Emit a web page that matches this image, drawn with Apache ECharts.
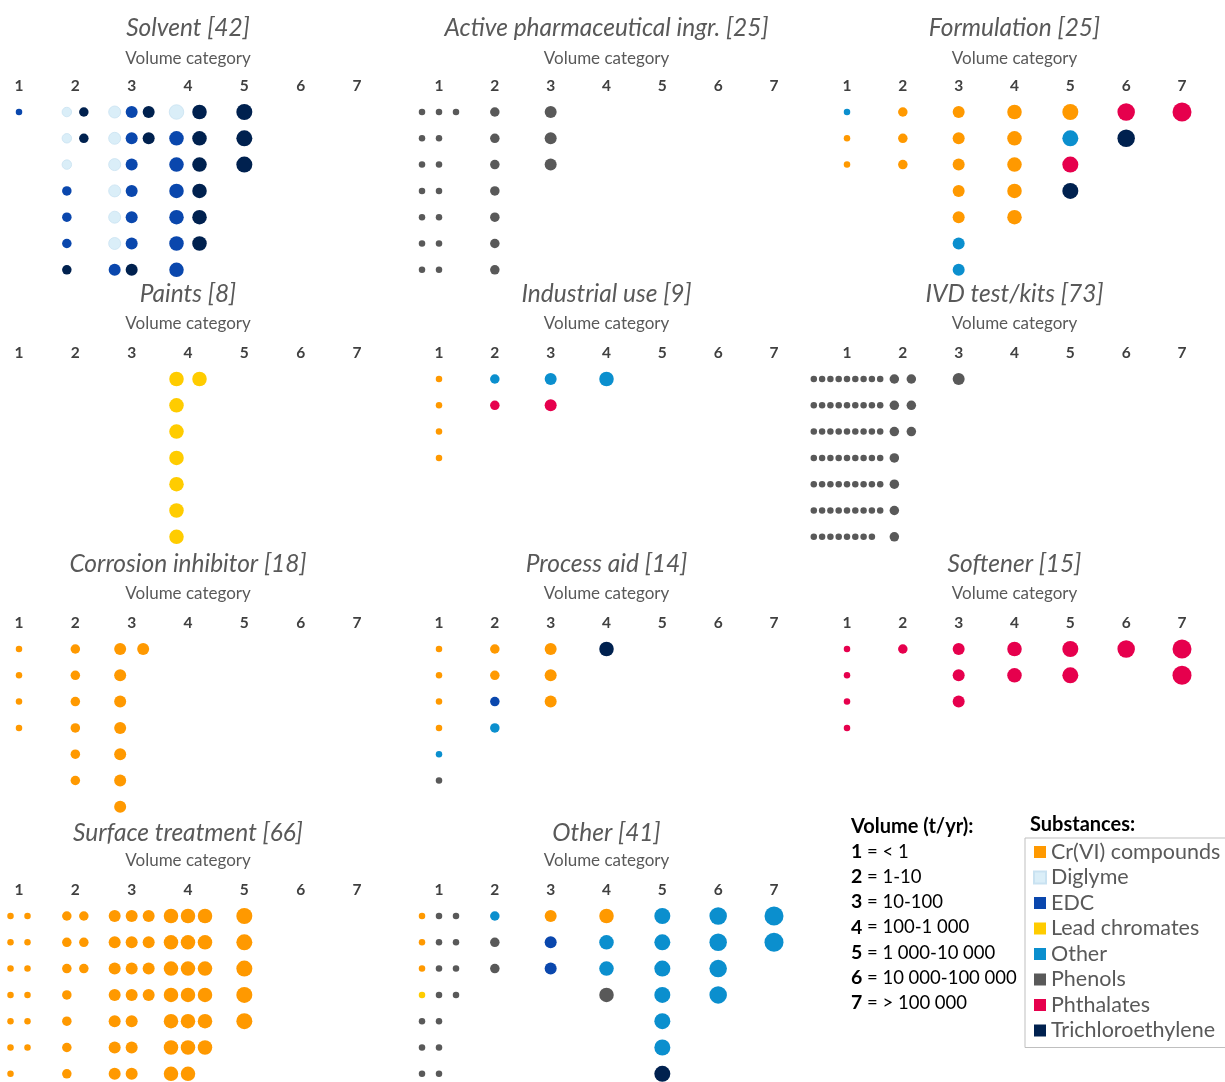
<!DOCTYPE html>
<html>
<head>
<meta charset="utf-8">
<script src="https://cdn.jsdelivr.net/npm/echarts@6/dist/echarts.min.js"></script>
<style>
  html, body { margin: 0; padding: 0; background: #fff; }
  #chart { width: 1225px; height: 1082px; }
</style>
</head>
<body>
<div id="chart"></div>
<script>
// substances, one letter code each
const substanceNames = ['Cr(VI) compounds', 'Diglyme', 'EDC', 'Lead chromates', 'Other', 'Phenols', 'Phthalates', 'Trichloroethylene'];
const substanceCodes = ['C', 'D', 'E', 'L', 'O', 'P', 'H', 'T'];
const substanceColors = ['#FF9900', '#DAEEF8', '#0A47AD', '#FFCC00', '#0B8FCE', '#595959', '#E6004D', '#00214F'];

const volumeLabels = ['1', '2', '3', '4', '5', '6', '7'];
const volumeLegend = ['< 1', '1-10', '10-100', '100-1\u202f000', '1\u202f000-10\u202f000', '10\u202f000-100\u202f000', '> 100\u202f000'];

const panelTitles = ['Solvent [42]', 'Active pharmaceutical ingr. [25]', 'Formulation [25]',
  'Paints [8]', 'Industrial use [9]', 'IVD test/kits [73]',
  'Corrosion inhibitor [18]', 'Process aid [14]', 'Softener [15]',
  'Surface treatment [66]', 'Other [41]'];

// per volume category 1..7: rows of dots top to bottom, one letter per dot left to right
const solvent = [['E'], ['DT', 'DT', 'D', 'E', 'E', 'E', 'T'], ['DET', 'DET', 'DE', 'DE', 'DE', 'DE', 'ET'], ['DT', 'ET', 'ET', 'ET', 'ET', 'ET', 'E'], ['T', 'T', 'T'], [], []];
const apiIngr = [['PPP', 'PP', 'PP', 'PP', 'PP', 'PP', 'PP'], ['P', 'P', 'P', 'P', 'P', 'P', 'P'], ['P', 'P', 'P'], [], [], [], []];
const formulation = [['O', 'C', 'C'], ['C', 'C', 'C'], ['C', 'C', 'C', 'C', 'C', 'O', 'O'], ['C', 'C', 'C', 'C', 'C'], ['C', 'O', 'H', 'T'], ['H', 'T'], ['H']];
const paints = [[], [], [], ['LL', 'L', 'L', 'L', 'L', 'L', 'L'], [], [], []];
const industrial = [['C', 'C', 'C', 'C'], ['O', 'H'], ['O', 'H'], ['O'], [], [], []];
const ivdKits = [['PPPPPPPPP', 'PPPPPPPPP', 'PPPPPPPPP', 'PPPPPPPPP', 'PPPPPPPPP', 'PPPPPPPPP', 'PPPPPPPP'], ['PP', 'PP', 'PP', 'P', 'P', 'P', 'P'], ['P'], [], [], [], []];
const corrosion = [['C', 'C', 'C', 'C'], ['C', 'C', 'C', 'C', 'C', 'C'], ['CC', 'C', 'C', 'C', 'C', 'C', 'C'], [], [], [], []];
const processAid = [['C', 'C', 'C', 'C', 'O', 'P'], ['C', 'C', 'E', 'O'], ['C', 'C', 'C'], ['T'], [], [], []];
const softener = [['H', 'H', 'H', 'H'], ['H'], ['H', 'H', 'H'], ['H', 'H'], ['H', 'H'], ['H'], ['H', 'H']];
const surface = [['CC', 'CC', 'CC', 'CC', 'CC', 'CC', 'C'], ['CC', 'CC', 'CC', 'C', 'C', 'C', 'C'], ['CCC', 'CCC', 'CCC', 'CCC', 'CC', 'CC', 'CC'], ['CCC', 'CCC', 'CCC', 'CCC', 'CCC', 'CCC', 'CC'], ['C', 'C', 'C', 'C', 'C'], [], []];
const other = [['CPP', 'CPP', 'CPP', 'LPP', 'PP', 'PP', 'PP'], ['O', 'P', 'P'], ['C', 'E', 'E'], ['C', 'O', 'O', 'P'], ['O', 'O', 'O', 'O', 'O', 'O', 'T'], ['O', 'O', 'O', 'O'], ['O', 'O']];

const panelData = [solvent, apiIngr, formulation, paints, industrial, ivdKits, corrosion, processAid, softener, surface, other];

// layout
const FONT = 'Lato, "Open Sans", sans-serif';
const colX1 = [19, 439, 847];
const colX7 = [357, 774, 1182];
const rowDotTop = [112, 379, 649, 916];
const rowTitleY = [28, 294, 564, 833];
const rowSubY = [59, 324, 594, 861];
const rowStep = 26.3;
const dotSize = [6.5, 9.5, 12, 14.5, 16, 17.5, 19];

// gap in px between dots sharing a category
function slotSpacing(cat, n) {
  if (n > 3) return 8.3;
  if (n === 2 && cat >= 3) return 23;
  return 17;
}

const grids = [], xAxes = [], yAxes = [], titles = [], series = [];

panelData.forEach(function (panel, p) {
  const col = p % 3, row = Math.floor(p / 3);
  const x1 = colX1[col], x7 = colX7[col];
  const unit = (x7 - x1) / 6;
  grids.push({ left: x1, top: rowDotTop[row], width: x7 - x1, height: rowStep * 6 });
  xAxes.push({
    gridIndex: p, type: 'value', position: 'top', min: 1, max: 7, interval: 1,
    axisLine: { show: false }, axisTick: { show: false }, splitLine: { show: false },
    axisLabel: {
      margin: 18, fontSize: 15.5, fontWeight: 'bold', color: '#404040', fontFamily: FONT,
      showMinLabel: true, showMaxLabel: true,
      formatter: function (v) { return volumeLabels[v - 1]; }
    }
  });
  yAxes.push({ gridIndex: p, type: 'value', inverse: true, min: 1, max: 7, show: false });
  titles.push({
    text: panelTitles[p], subtext: 'Volume category',
    left: (x1 + x7) / 2, top: rowTitleY[row] - 14, textAlign: 'center', padding: 0,
    itemGap: (rowSubY[row] - 10) - (rowTitleY[row] + 14),
    textStyle: { fontSize: 24.5, fontStyle: 'italic', fontWeight: 'normal', color: '#595959', lineHeight: 28, fontFamily: FONT },
    subtextStyle: { fontSize: 17, color: '#595959', lineHeight: 20, fontFamily: FONT }
  });

  const points = substanceCodes.map(function () { return []; });
  panel.forEach(function (rows, c) {
    const n = rows.reduce(function (m, r) { return Math.max(m, r.length); }, 0);
    const sp = slotSpacing(c + 1, n) / unit;
    rows.forEach(function (r, ri) {
      r.split('').forEach(function (code, i) {
        const s = substanceCodes.indexOf(code);
        points[s].push([c + 1 + (i - (n - 1) / 2) * sp, ri + 1, dotSize[c]]);
      });
    });
  });
  points.forEach(function (pts, s) {
    if (!pts.length) return;
    series.push({
      type: 'scatter', name: substanceNames[s], xAxisIndex: p, yAxisIndex: p,
      data: pts, clip: false, silent: true,
      symbolSize: function (v) { return v[2]; },
      itemStyle: {
        color: substanceColors[s], opacity: 1,
        borderColor: s === 1 ? '#C9E2F1' : substanceColors[s], borderWidth: s === 1 ? 0.8 : 0
      }
    });
  });
});

// volume key text
let volText = '{h|Volume (t/yr):}';
volumeLabels.forEach(function (l, i) { volText += '\n{b|' + l + '}{t| = ' + volumeLegend[i] + '}'; });

const chart = echarts.init(document.getElementById('chart'));
chart.setOption({
  animation: false,
  backgroundColor: '#fff',
  title: titles,
  grid: grids,
  xAxis: xAxes,
  yAxis: yAxes,
  legend: {
    data: substanceNames, orient: 'vertical', left: 1025, top: 838,
    icon: 'rect', itemWidth: 12, itemHeight: 12, itemGap: 3.5,
    padding: [3, 8, 6, 8], borderColor: '#BFBFBF', borderWidth: 1,
    selectedMode: false,
    textStyle: { fontSize: 21.5, color: '#595959', fontFamily: FONT }
  },
  graphic: [
    {
      type: 'text', left: 851, top: 814,
      style: {
        text: volText, fontFamily: FONT, lineHeight: 25.2,
        rich: {
          h: { fontSize: 20, fontWeight: 'bold', fill: '#000', lineHeight: 25.2, fontFamily: FONT },
          b: { fontSize: 19.5, fontWeight: 'bold', fill: '#000', lineHeight: 25.2, fontFamily: FONT },
          t: { fontSize: 18.5, fill: '#000', lineHeight: 25.2, fontFamily: FONT }
        }
      }
    },
    {
      type: 'text', left: 1030, top: 815,
      style: { text: 'Substances:', fontSize: 20, fontWeight: 'bold', fill: '#000', fontFamily: FONT }
    }
  ],
  series: series
});
</script>
</body>
</html>
